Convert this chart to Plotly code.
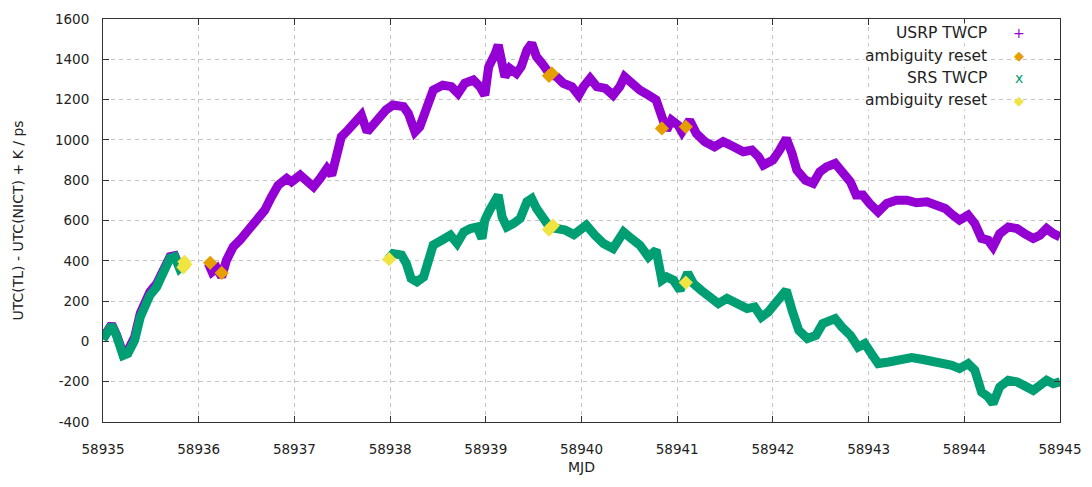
import plotly.graph_objects as go

# ---- USRP TWCP (ps) ----
usrp_mjd = [58935.00, 58935.05, 58935.09, 58935.14, 58935.21, 58935.26, 58935.33, 58935.39,
            58935.44, 58935.49, 58935.56, 58935.63, 58935.70, 58935.75, 58935.80, 58935.84,
            None,
            58936.10, 58936.14, 58936.19, 58936.24, 58936.29, 58936.36, 58936.43, 58936.52,
            58936.61, 58936.69, 58936.76, 58936.83, 58936.92, 58936.97, 58937.06, 58937.13,
            58937.20, 58937.27, 58937.34, 58937.39, 58937.44, 58937.49, 58937.56, 58937.65,
            58937.70, 58937.76, 58937.82, 58937.89, 58937.96, 58938.03, 58938.14, 58938.19,
            58938.26, 58938.31, 58938.38, 58938.45, 58938.55, 58938.64, 58938.71, 58938.78,
            58938.87, 58938.94, 58938.99, 58939.03, 58939.10, 58939.13, 58939.17, 58939.20,
            58939.25, 58939.32, 58939.37, 58939.43, 58939.48, 58939.53, 58939.60, 58939.67,
            58939.74, 58939.81, 58939.90, 58939.97, 58940.02, 58940.09, 58940.16, 58940.25,
            58940.33, 58940.40, 58940.45, 58940.52, 58940.61, 58940.70, 58940.78, 58940.84,
            58940.89, 58940.94, 58941.01, 58941.05, 58941.09, 58941.13, 58941.20, 58941.29,
            58941.39, 58941.48, 58941.59, 58941.69, 58941.78, 58941.85, 58941.90, 58941.95,
            58942.00, 58942.07, 58942.14, 58942.20, 58942.25, 58942.34, 58942.42, 58942.49,
            58942.56, 58942.65, 58942.74, 58942.81, 58942.87, 58942.94, 58943.01, 58943.10,
            58943.19, 58943.29, 58943.40, 58943.50, 58943.61, 58943.71, 58943.80, 58943.88,
            58943.95, 58944.04, 58944.11, 58944.18, 58944.25, 58944.30, 58944.37, 58944.46,
            58944.55, 58944.63, 58944.72, 58944.79, 58944.86, 58944.93, 58945.00]
usrp_ps = [15, 50, 85, 35, -60, -45, 20, 140,
           190, 245, 285, 345, 420, 425, 370, 380,
           None,
           388, 345, 363, 320, 403, 469, 502, 560,
           610, 651, 717, 775, 809, 792, 825, 800,
           767, 809, 858, 825, 933, 1015, 1049, 1098,
           1123, 1040, 1073, 1120, 1150, 1173, 1165, 1132,
           1040, 1065, 1165, 1247, 1272, 1264, 1231, 1281,
           1297, 1264, 1222, 1363, 1430, 1471, 1380, 1313,
           1355, 1330, 1363, 1446, 1479, 1413, 1372, 1325,
           1313, 1281, 1264, 1222, 1264, 1305, 1264, 1256,
           1222, 1264, 1313, 1281, 1247, 1222, 1198, 1115,
           1049, 1098, 1073, 1040, 1065, 1098, 1032, 991,
           966, 991, 966, 941, 949, 916, 875, 890,
           900, 949, 1007, 933, 850, 800, 784, 842,
           866, 883, 834, 792, 726, 726, 685, 643,
           685, 701, 701, 688, 693, 676, 660, 627,
           602, 627, 585, 511, 502, 469, 535, 568,
           560, 535, 511, 527, 560, 535, 519]

# ---- USRP ambiguity resets ----
usrp_reset_mjd = [58936.12, 58936.24, 58939.66, 58939.69, 58940.84, 58941.09]
usrp_reset_ps = [390, 340, 1318, 1330, 1057, 1065]

# ---- SRS TWCP (ps) ----
srs_mjd = [58935.00, 58935.05, 58935.09, 58935.14, 58935.21, 58935.26, 58935.33, 58935.39,
           58935.44, 58935.49, 58935.56, 58935.63, 58935.70, 58935.75, 58935.80, 58935.85,
           None,
           58937.98, 58938.03, 58938.12, 58938.17, 58938.22, 58938.28, 58938.35, 58938.40,
           58938.45, 58938.54, 58938.63, 58938.70, 58938.77, 58938.84, 58938.91, 58938.96,
           58938.99, 58939.04, 58939.10, 58939.13, 58939.17, 58939.22, 58939.29, 58939.36,
           58939.43, 58939.48, 58939.53, 58939.60, 58939.67, 58939.74, 58939.83, 58939.92,
           58940.05, 58940.14, 58940.23, 58940.33, 58940.44, 58940.52, 58940.61, 58940.70,
           58940.78, 58940.84, 58940.89, 58940.96, 58941.03, 58941.11, 58941.17, 58941.25,
           58941.34, 58941.43, 58941.52, 58941.62, 58941.73, 58941.81, 58941.88, 58941.95,
           58942.02, 58942.09, 58942.14, 58942.20, 58942.27, 58942.36, 58942.45, 58942.52,
           58942.59, 58942.65, 58942.72, 58942.81, 58942.89, 58942.96, 58943.03, 58943.10,
           58943.21, 58943.33, 58943.45, 58943.57, 58943.67, 58943.78, 58943.87, 58943.95,
           58944.04, 58944.11, 58944.18, 58944.25, 58944.30, 58944.37, 58944.46, 58944.55,
           58944.63, 58944.72, 58944.79, 58944.86, 58944.93, 58945.00]
srs_ps = [10, 45, 80, 30, -70, -60, 5, 121,
          171, 229, 270, 338, 413, 420, 363, 385,
          None,
          408, 436, 428, 386, 312, 295, 320, 419,
          478, 502, 527, 486, 543, 560, 568, 511,
          602, 651, 701, 726, 618, 568, 585, 610,
          693, 709, 660, 618, 565, 560, 552, 530,
          577, 527, 486, 461, 543, 511, 478, 419,
          453, 304, 320, 304, 254, 340, 287, 254,
          221, 188, 213, 188, 163, 171, 121, 145,
          180, 229, 254, 155, 55, 14, 30, 88,
          97, 113, 72, 30, -28, -11, -61, -110,
          -102, -86, -80, -90, -97, -102, -119, -135,
          -110, -143, -251, -276, -309, -226, -193, -201,
          -226, -243, -218, -193, -210, -201]

# ---- SRS ambiguity resets ----
srs_reset_mjd = [58935.84, 58935.85, 58935.86, 58937.99, 58939.66, 58939.68, 58939.70, 58941.09]
srs_reset_ps = [368, 395, 382, 408, 555, 565, 575, 292]

x_ticks = [58935, 58936, 58937, 58938, 58939, 58940, 58941, 58942, 58943, 58944, 58945]
y_ticks = [-400, -200, 0, 200, 400, 600, 800, 1000, 1200, 1400, 1600]

PURPLE = "#9400d3"
ORANGE = "#e69f00"
GREEN = "#009e73"
YELLOW = "#f0e442"
FONT = "DejaVu Sans"

fig = go.Figure()

fig.add_trace(go.Scatter(x=usrp_mjd, y=usrp_ps, mode="lines", name="USRP TWCP",
                         line=dict(color=PURPLE, width=9), connectgaps=False))
fig.add_trace(go.Scatter(x=usrp_reset_mjd, y=usrp_reset_ps, mode="markers", name="ambiguity reset",
                         marker=dict(symbol="diamond", size=11, color=ORANGE)))
fig.add_trace(go.Scatter(x=srs_mjd, y=srs_ps, mode="lines", name="SRS TWCP",
                         line=dict(color=GREEN, width=9), connectgaps=False))
fig.add_trace(go.Scatter(x=srs_reset_mjd, y=srs_reset_ps, mode="markers", name="ambiguity reset",
                         marker=dict(symbol="diamond", size=11, color=YELLOW)))

axis_common = dict(
    showline=True, linecolor="#333333", linewidth=1, mirror="ticks",
    ticks="inside", ticklen=6, tickcolor="#333333",
    showgrid=True, gridcolor="#c4c4c4", griddash="4px,4px", gridwidth=1,
    zeroline=False, automargin=False,
    tickfont=dict(family=FONT, size=13.5, color="#222222"),
)

fig.update_xaxes(range=[58935, 58945], tickvals=x_ticks, ticktext=[str(t) for t in x_ticks],
                 ticklabelstandoff=15,
                 title=dict(text="MJD", font=dict(family=FONT, size=14, color="#222222"), standoff=5),
                 **axis_common)
fig.update_yaxes(range=[-400, 1600], tickvals=y_ticks, ticktext=[str(t) for t in y_ticks],
                 ticklabelstandoff=10,
                 title=dict(text="UTC(TL) - UTC(NICT) + K / ps",
                            font=dict(family=FONT, size=14, color="#222222"), standoff=28),
                 **axis_common)

# key in the top-right corner: right-aligned labels with their symbol after them
key_rows = [("USRP TWCP", "+", PURPLE, 14), ("ambiguity reset", "◆", ORANGE, 13),
            ("SRS TWCP", "x", GREEN, 14), ("ambiguity reset", "◆", YELLOW, 13)]
key_y = [33, 56, 78, 100]
W, H = 1092, 487
L, R, T, B = 103, 32, 19, 65
for (label, sym, col, ssz), yy in zip(key_rows, key_y):
    yp = 1 - (yy - T) / (H - T - B)
    fig.add_annotation(xref="paper", yref="paper", x=(988 - L) / (W - L - R), y=yp,
                       xanchor="right", yanchor="middle", text=label, showarrow=False,
                       bgcolor="white", borderpad=0,
                       font=dict(family=FONT, size=15.5, color="#222222"))
    fig.add_annotation(xref="paper", yref="paper", x=(1019 - L) / (W - L - R), y=yp,
                       xanchor="center", yanchor="middle", text=sym, showarrow=False,
                       font=dict(family=FONT, size=ssz, color=col))

fig.update_layout(
    width=W, height=H,
    margin=dict(l=L, r=R, t=T, b=B),
    paper_bgcolor="white", plot_bgcolor="white",
    showlegend=False,
)

fig.write_html("out.html")
